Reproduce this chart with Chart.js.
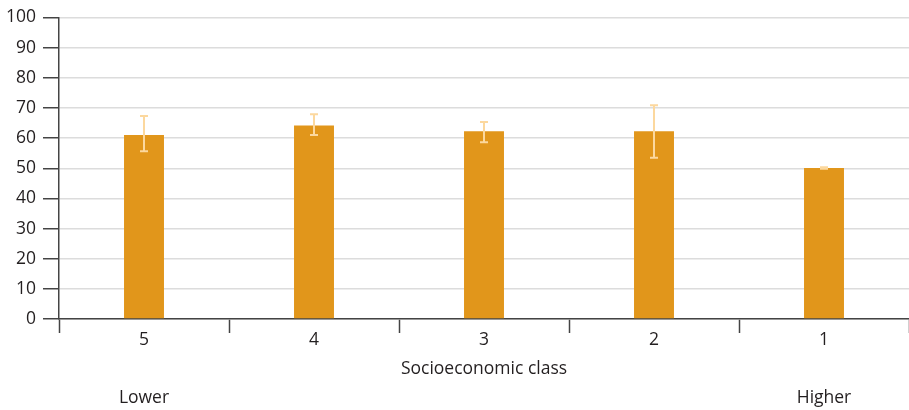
<!DOCTYPE html>
<html>
<head>
<meta charset="utf-8">
<script src="https://cdn.jsdelivr.net/npm/chart.js@4"></script>
<style>
  html, body { margin: 0; padding: 0; background: #fff; }
  #wrap { width: 909px; height: 410px; }
</style>
</head>
<body>
<div id="wrap"><canvas id="chart"></canvas></div>
<script>
'use strict';

const CLASSES = ['5', '4', '3', '2', '1'];
const SHARE = [61, 64.2, 62.3, 62.3, 50.1];
const ERR_LOW = [55.6, 61, 58.6, 53.5, 49.8];
const ERR_HIGH = [67.3, 67.9, 65.3, 70.9, 50.3];
const AXIS_TITLE = 'Socioeconomic class';
const END_LABELS = ['Lower', 'Higher'];

const FONT = '"Open Sans", "Noto Sans", sans-serif';
const FONT_SIZE = 17.5;
const TEXT = '#231f20';
const BAR = '#e1961b';
const ERR = '#fcd89e';

// whiskers for each bar, drawn over the bars
const errorBars = {
  id: 'errorBars',
  afterDatasetsDraw(chart) {
    const { ctx, scales: { x, y } } = chart;
    ctx.save();
    ctx.strokeStyle = ERR;
    ctx.lineWidth = 2;
    CLASSES.forEach((c, i) => {
      const cx = x.getPixelForValue(i);
      const lo = y.getPixelForValue(ERR_LOW[i]);
      const hi = y.getPixelForValue(ERR_HIGH[i]);
      ctx.beginPath();
      ctx.moveTo(cx, lo); ctx.lineTo(cx, hi);
      ctx.moveTo(cx - 4, lo); ctx.lineTo(cx + 4, lo);
      ctx.moveTo(cx - 4, hi); ctx.lineTo(cx + 4, hi);
      ctx.stroke();
    });
    ctx.restore();
  }
};

// axis title and the lower/higher end notes
const axisNotes = {
  id: 'axisNotes',
  afterDraw(chart) {
    const { ctx, scales: { x } } = chart;
    ctx.save();
    ctx.fillStyle = TEXT;
    ctx.font = `${FONT_SIZE}px ${FONT}`;
    ctx.textAlign = 'center';
    ctx.textBaseline = 'middle';
    ctx.fillText(AXIS_TITLE, x.getPixelForValue(2), 369);
    ctx.fillText(END_LABELS[0], x.getPixelForValue(0), 398);
    ctx.fillText(END_LABELS[1], x.getPixelForValue(CLASSES.length - 1), 398);
    ctx.restore();
  }
};

new Chart(document.getElementById('chart'), {
  type: 'bar',
  data: {
    labels: CLASSES,
    datasets: [{
      data: SHARE,
      backgroundColor: BAR,
      barPercentage: 0.235,
      categoryPercentage: 1,
    }],
  },
  options: {
    responsive: true,
    maintainAspectRatio: false,
    animation: false,
    layout: { padding: { top: 12, right: -3, left: 0, bottom: 0 } },
    plugins: { legend: { display: false }, tooltip: { enabled: false } },
    scales: {
      x: {
        afterFit: s => { s.height = 91; },
        grid: {
          offset: true,
          drawOnChartArea: false,
          tickLength: 14,
          tickColor: '#444',
          tickWidth: 1.5,
        },
        border: { color: '#444', width: 1.5 },
        ticks: { color: TEXT, font: { family: FONT, size: FONT_SIZE }, padding: -3 },
      },
      y: {
        min: 0,
        max: 100,
        afterFit: s => { s.width = 59; },
        grid: {
          color: '#dcdcdc',
          lineWidth: 1.5,
          tickLength: 16,
          tickColor: '#444',
          tickWidth: 1.5,
        },
        border: { color: '#444', width: 1.5 },
        ticks: { stepSize: 10, color: TEXT, font: { family: FONT, size: FONT_SIZE }, padding: 7 },
      },
    },
  },
  plugins: [errorBars, axisNotes],
});
</script>
</body>
</html>
